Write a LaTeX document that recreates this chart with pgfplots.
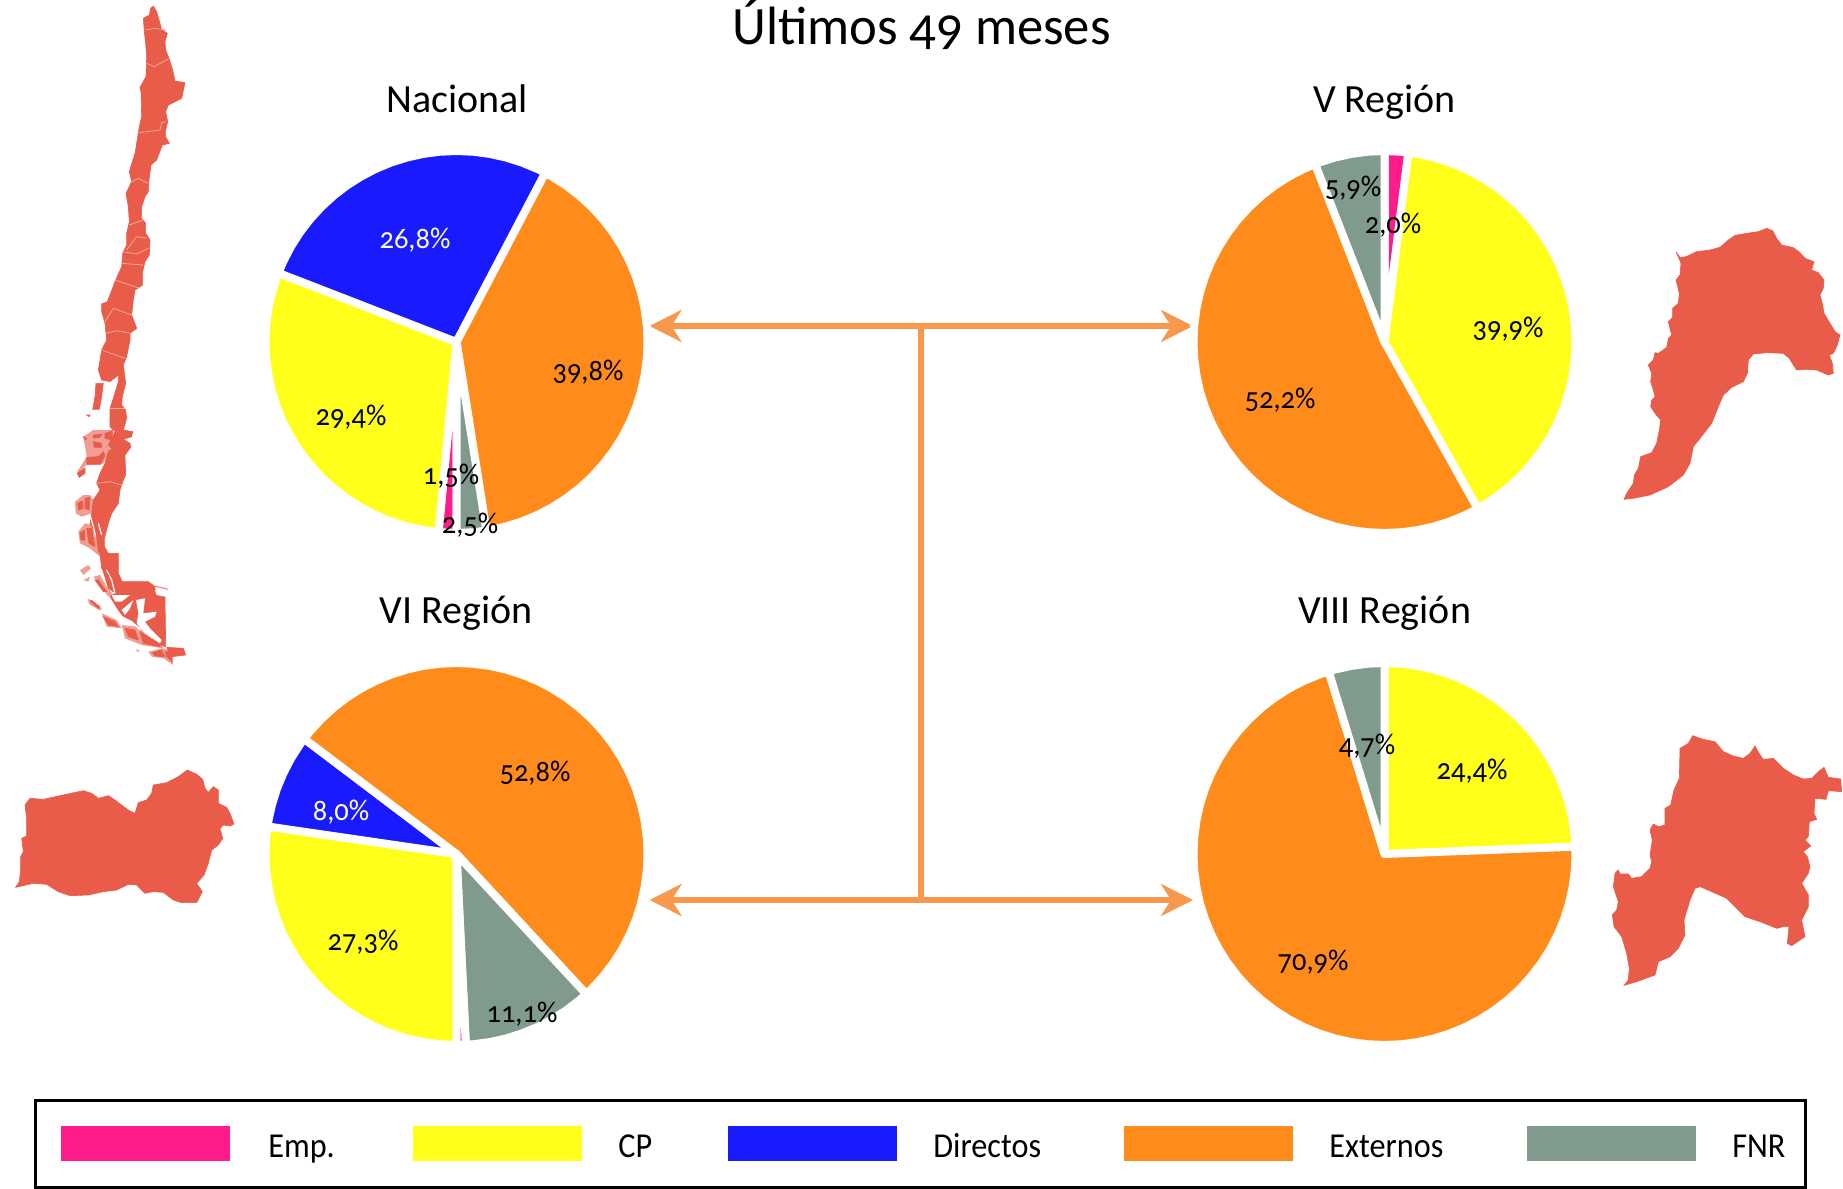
\documentclass[border=0pt]{standalone}
\usepackage{fontspec}
\setmainfont[Numbers=OldStyle]{Carlito}
\usepackage{pgfplots}
\pgfplotsset{compat=1.18}
\usepgfplotslibrary{polar}
\usetikzlibrary{arrows.meta}
\definecolor{cEmp}{HTML}{FF1C8A}
\definecolor{cCP}{HTML}{FFFF19}
\definecolor{cDir}{HTML}{1A1AFF}
\definecolor{cExt}{HTML}{FF8C1A}
\definecolor{cFNR}{HTML}{809A8E}
\definecolor{cMap}{HTML}{EA5C4A}
\definecolor{cArr}{HTML}{F8984C}
\pgfplotsset{
  z/.style 2 args={x filter/.expression={#1+x/3},y filter/.expression={#2+y/3}},
  land/.style={no markers,fill=cMap,draw=cMap,line width=0.3pt},
  pale/.style={no markers,fill=cMap!60!white,draw=none},
  gap/.style={no markers,fill=white,draw=none},
  cut/.style={no markers,draw=white,line width=0.6pt},
  seam/.style={no markers,draw=white!50!cMap,line width=0.35pt},
  swatch/.style={no markers,fill=#1,draw=none},
  wedge/.style={no markers,fill=#1,draw=white,line width=4pt,line join=round},
  pie/.style={hide axis,scale only axis,width=191pt,height=191pt,xmin=0,xmax=360,ymin=0,ymax=1,clip=false,anchor=center},
}
\newcommand\lab[3][black]{\node[text=#1,font=\fontsize{15}{18}\selectfont] at ($(#2)+(0,2)$) {\scalebox{0.95}[1]{#3}};}
\newcommand\leg[2]{\node[anchor=base west,inner sep=0pt,font=\fontsize{17.5}{20}\selectfont] at (#1,1158) {\scalebox{0.92}[1]{#2}};}
\newcommand\ttl[3]{\node[anchor=base,font=\fontsize{20}{24}\selectfont] at (#1,#2) {#3};}
\usetikzlibrary{calc}
\begin{document}
\begin{tikzpicture}
\useasboundingbox (0,0) rectangle (921.5pt,594.5pt);
\begin{axis}[at={(0,0)},anchor=south west,scale only axis,width=921.5pt,height=594.5pt,
  xmin=0,xmax=1843,ymin=0,ymax=1189,y dir=reverse,hide axis,clip=false]
% Chile, north
\addplot[land,z={0}{0}] coordinates {(460,18)(470,35)(480,70)(485,88)(502,100)(495,125)(497,150)(508,178)(518,210)(525,243)(555,248)(545,295)(505,315)(497,335)(503,365)(497,390)(497,410)(508,430)(487,435)(470,480)(453,495)(447,540)(445,575)(435,590)(425,620)(425,655)(437,670)(437,700)(450,720)(448,765)(435,785)(428,815)(428,855)(405,870)(400,900)(395,945)(410,985)(390,1000)(390,1020)(320,1020)(315,970)(305,935)(305,912)(322,905)(345,845)(365,800)(368,760)(380,735)(380,700)(388,665)(385,620)(378,580)(395,545)(388,515)(405,460)(410,430)(418,380)(425,350)(423,275)(420,262)(438,230)(440,170)(437,130)(433,95)(430,55)(448,45)(452,25)} --cycle;
% pale, mottled archipelagos
\addplot[pale,z={60}{340}] coordinates {(70,290)(100,270)(160,270)(150,330)(130,370)(78,375)(55,410)(52,395)(80,350)} --cycle;
\addplot[pale,z={65}{480}] coordinates {(30,65)(55,45)(75,45)(85,60)(80,100)(50,110)(32,100)} --cycle;
\addplot[pale,z={65}{480}] coordinates {(40,155)(60,130)(80,135)(105,150)(115,185)(125,225)(105,230)(75,205)(45,190)} --cycle;
\addplot[pale,z={65}{480}] coordinates {(45,270)(70,255)(78,265)(55,285)} --cycle;
\addplot[pale,z={65}{480}] coordinates {(55,300)(75,290)(70,305)} --cycle;
\addplot[pale,z={65}{480}] coordinates {(85,290)(105,285)(125,320)(145,345)(130,350)} --cycle;
\addplot[pale,z={65}{480}] coordinates {(110,260)(150,290)(150,340)(130,320)} --cycle;
\addplot[pale,z={65}{480}] coordinates {(68,355)(110,385)(105,392)(72,372)} --cycle;
\addplot[pale,z={65}{480}] coordinates {(110,400)(155,420)(170,445)(125,440)} --cycle;
\addplot[pale,z={65}{480}] coordinates {(170,435)(215,440)(290,490)(295,505)(230,495)(180,475)} --cycle;
\addplot[pale,z={65}{480}] coordinates {(250,515)(290,505)(320,510)(325,555)(295,535)(260,530)} --cycle;
\addplot[pale,z={65}{480}] coordinates {(212,508)(225,512)(218,516)} --cycle;
% Chile, south
\addplot[land,z={60}{340}] coordinates {(140,0)(210,0)(200,50)(190,75)(197,130)(187,170)(185,195)(197,210)(200,235)(190,270)(218,275)(215,290)(190,298)(210,310)(212,322)(195,345)(197,405)(190,420)(180,450)(175,490)(155,520)(145,550)(133,595)(133,620)(145,640)(175,640)(175,700)(187,725)(265,725)(285,740)(285,750)(315,770)(317,920)(300,915)(265,880)(225,850)(190,830)(175,810)(150,770)(165,760)(160,740)(140,710)(125,685)(120,640)(115,600)(90,550)(95,520)(100,480)(120,450)(110,430)(120,400)(135,370)(145,335)(155,325)(145,315)(165,275)(150,260)(150,205)(160,175)(175,125)(175,105)(150,125)(125,120)(115,90)(125,30)} --cycle;
\addplot[gap,z={65}{480}] coordinates {(140,345)(195,345)(170,365)(150,365)} --cycle;
\addplot[gap,z={65}{480}] coordinates {(170,390)(205,360)(195,385)(180,405)} --cycle;
\addplot[gap,z={65}{480}] coordinates {(213,360)(240,355)(235,400)(275,395)(270,410)(240,425)(255,445)(290,480)(285,490)(240,460)(215,430)(220,400)} --cycle;
\addplot[gap,z={65}{480}] coordinates {(270,330)(300,330)(300,350)(275,345)} --cycle;
\addplot[no markers,draw=white!30!cMap,line width=0.6pt,z={65}{480}] coordinates {(270,318)(310,328)};
\addplot[cut,z={65}{480}] coordinates {(75,105)(85,140)(92,170)};
\addplot[cut,z={65}{480}] coordinates {(100,130)(110,165)};
\addplot[cut,z={65}{480}] coordinates {(125,270)(140,300)(150,340)};
\addplot[cut,z={65}{480}] coordinates {(150,400)(200,425)(225,450)};
% islands
\addplot[land,z={60}{340}] coordinates {(108,130)(130,130)(125,170)(118,208)(98,208)(105,170)} --cycle;
\addplot[land,z={60}{340}] coordinates {(135,280)(158,272)(155,300)(135,295)} --cycle;
\addplot[land,z={60}{340}] coordinates {(100,305)(125,310)(125,322)(103,322)} --cycle;
\addplot[land,z={60}{340}] coordinates {(80,352)(115,350)(130,335)(135,345)(122,373)(80,373)} --cycle;
\addplot[land,z={60}{340}] coordinates {(100,285)(125,282)(120,292)(100,294)} --cycle;
\addplot[land,z={60}{340}] coordinates {(70,290)(80,295)(75,300)} --cycle;
\addplot[land,z={60}{340}] coordinates {(80,225)(90,225)(88,230)} --cycle;
\addplot[land,z={60}{340}] coordinates {(75,385)(52,400)(58,412)(75,400)} --cycle;
\addplot[land,z={65}{480}] coordinates {(38,70)(52,62)(55,85)(40,90)} --cycle;
\addplot[land,z={65}{480}] coordinates {(60,55)(75,52)(72,90)(60,85)} --cycle;
\addplot[land,z={65}{480}] coordinates {(45,160)(58,150)(60,180)(48,180)} --cycle;
\addplot[land,z={65}{480}] coordinates {(65,145)(80,145)(90,200)(72,190)} --cycle;
\addplot[land,z={65}{480}] coordinates {(95,170)(105,175)(112,225)(100,215)} --cycle;
\addplot[land,z={65}{480}] coordinates {(115,275)(130,285)(145,335)(130,325)} --cycle;
\addplot[land,z={65}{480}] coordinates {(90,300)(100,300)(125,335)(115,335)} --cycle;
\addplot[land,z={65}{480}] coordinates {(78,360)(105,380)(100,385)(76,365)} --cycle;
\addplot[land,z={65}{480}] coordinates {(115,410)(150,425)(160,440)(130,435)} --cycle;
\addplot[land,z={65}{480}] coordinates {(180,445)(210,450)(220,480)(190,470)} --cycle;
\addplot[land,z={65}{480}] coordinates {(225,455)(280,490)(285,500)(235,490)} --cycle;
\addplot[land,z={65}{480}] coordinates {(262,518)(290,510)(300,530)(270,528)} --cycle;
\addplot[land,z={65}{480}] coordinates {(300,515)(318,515)(322,545)(305,530)} --cycle;
\addplot[land,z={65}{480}] coordinates {(305,502)(355,505)(362,525)(320,530)} --cycle;
% regional seams
\addplot[seam,z={0}{0}] coordinates {(435,90)(465,85)(500,90)};
\addplot[seam,z={0}{0}] coordinates {(440,190)(462,200)(508,175)};
\addplot[seam,z={0}{0}] coordinates {(418,398)(480,390)(485,368)(497,365)};
\addplot[seam,z={0}{0}] coordinates {(395,545)(415,535)(445,550)};
\addplot[seam,z={0}{0}] coordinates {(388,675)(430,660)};
\addplot[seam,z={0}{0}] coordinates {(380,750)(410,710)(440,715)};
\addplot[seam,z={0}{0}] coordinates {(368,755)(410,762)(445,745)};
\addplot[seam,z={0}{0}] coordinates {(365,790)(430,795)};
\addplot[seam,z={0}{0}] coordinates {(345,840)(375,850)(420,865)};
\addplot[seam,z={0}{0}] coordinates {(315,965)(340,925)(395,945)};
\addplot[seam,z={0}{0}] coordinates {(318,1000)(350,992)(390,1000)};
\addplot[seam,z={60}{340}] coordinates {(125,30)(195,55)};
\addplot[seam,z={60}{340}] coordinates {(150,205)(195,205)};
\addplot[seam,z={60}{340}] coordinates {(110,430)(150,425)(185,435)};
% V Region map
\addplot[land,z={1600}{210}] coordinates {(228,125)(240,143)(258,140)(290,125)(330,120)(360,112)(385,90)(405,76)(440,70)(475,65)(500,55)(518,62)(530,85)(545,105)(580,113)(600,128)(615,145)(642,155)(635,180)(655,188)(672,210)(670,235)(660,255)(668,285)(672,310)(690,340)(705,365)(720,375)(712,405)(700,430)(688,435)(697,460)(700,490)(685,495)(650,480)(620,478)(590,480)(580,465)(568,445)(550,430)(500,428)(460,432)(445,450)(442,490)(430,515)(395,532)(370,555)(355,590)(335,640)(300,685)(280,710)(270,760)(250,795)(205,830)(150,855)(100,865)(72,868)(80,850)(100,820)(103,795)(115,775)(122,740)(155,728)(170,700)(178,660)(182,630)(165,610)(152,590)(155,570)(165,560)(160,540)(152,515)(155,490)(145,465)(160,450)(165,428)(175,430)(200,412)(205,385)(215,375)(205,335)(218,322)(218,295)(235,280)(238,250)(228,210)(240,195)(243,160)} --cycle;
% VI Region map
\addplot[land,z={0}{750}] coordinates {(47,412)(58,395)(62,360)(62,320)(70,305)(65,265)(80,258)(80,205)(75,165)(90,145)(130,148)(180,137)(250,122)(275,130)(295,145)(325,137)(345,150)(385,180)(405,190)(415,158)(440,150)(455,130)(460,105)(500,98)(535,80)(562,60)(590,73)(608,88)(615,115)(625,127)(640,110)(655,120)(655,160)(680,172)(692,195)(702,222)(690,228)(670,225)(660,235)(668,265)(655,285)(635,300)(625,340)(612,375)(590,400)(607,425)(590,458)(545,458)(520,450)(490,427)(460,425)(435,430)(410,405)(385,403)(350,420)(310,425)(265,435)(210,437)(175,425)(140,403)(100,400)} --cycle;
% VIII Region map
\addplot[land,z={1600}{720}] coordinates {(72,796)(85,780)(88,745)(80,700)(65,650)(42,620)(37,585)(50,570)(55,545)(40,500)(45,460)(55,450)(60,462)(85,462)(95,475)(125,470)(150,445)(155,425)(150,405)(157,360)(150,330)(160,312)(175,320)(195,315)(195,265)(212,255)(222,210)(238,175)(240,85)(265,70)(278,47)(310,58)(345,65)(370,95)(400,108)(430,115)(450,100)(465,78)(480,105)(490,118)(520,115)(550,145)(580,165)(610,177)(635,175)(655,155)(672,142)(685,172)(722,177)(725,215)(685,212)(678,238)(645,235)(642,280)(650,298)(628,305)(625,350)(615,360)(632,378)(610,395)(622,410)(630,440)(625,460)(605,490)(625,525)(625,560)(605,600)(615,650)(575,677)(562,670)(567,620)(550,620)(530,625)(480,605)(435,590)(410,565)(380,535)(335,515)(300,500)(285,505)(270,540)(252,600)(255,645)(235,685)(210,710)(175,725)(165,765)(110,785)} --cycle;
% connector
\addplot[no markers,draw=cArr,line width=3pt] coordinates {(921,326)(921,900)};
\addplot[no markers,draw=cArr,line width=3.3pt,{Stealth[length=16pt,width=16pt,inset=5pt]}-{Stealth[length=16pt,width=16pt,inset=5pt]}] coordinates {(649.5,326)(1193,326)};
\addplot[no markers,draw=cArr,line width=3.3pt,{Stealth[length=16pt,width=16pt,inset=5pt]}-{Stealth[length=16pt,width=16pt,inset=5pt]}] coordinates {(649.5,900)(1193,900)};
% legend
\addplot[no markers,draw=black,line width=1.5pt] coordinates {(35,1100)(1805,1100)(1805,1187.5)(35,1187.5)} --cycle;
\addplot[swatch=cEmp] coordinates {(61,1126)(230,1126)(230,1161)(61,1161)} --cycle;
\addplot[swatch=cCP] coordinates {(412.5,1126)(582,1126)(582,1161)(412.5,1161)} --cycle;
\addplot[swatch=cDir] coordinates {(727.5,1126)(897,1126)(897,1161)(727.5,1161)} --cycle;
\addplot[swatch=cExt] coordinates {(1124,1126)(1293,1126)(1293,1161)(1124,1161)} --cycle;
\addplot[swatch=cFNR] coordinates {(1527,1126)(1696,1126)(1696,1161)(1527,1161)} --cycle;
\end{axis}

% Nacional
\begin{polaraxis}[pie,at={(228.25pt,423.5pt)}]
\addplot[wedge=cEmp] coordinates {(0,0)(270,1)(264.6,1)} --cycle;
\addplot[wedge=cCP] coordinates {(0,0)(264.6,1)(260,1)(255,1)(250,1)(245,1)(240,1)(235,1)(230,1)(225,1)(220,1)(215,1)(210,1)(205,1)(200,1)(195,1)(190,1)(185,1)(180,1)(175,1)(170,1)(165,1)(160,1)(158.8,1)} --cycle;
\addplot[wedge=cDir] coordinates {(0,0)(158.8,1)(155,1)(150,1)(145,1)(140,1)(135,1)(130,1)(125,1)(120,1)(115,1)(110,1)(105,1)(100,1)(95,1)(90,1)(85,1)(80,1)(75,1)(70,1)(65,1)(62.3,1)} --cycle;
\addplot[wedge=cExt] coordinates {(0,0)(62.3,1)(60,1)(55,1)(50,1)(45,1)(40,1)(35,1)(30,1)(25,1)(20,1)(15,1)(10,1)(5,1)(0,1)(-5,1)(-10,1)(-15,1)(-20,1)(-25,1)(-30,1)(-35,1)(-40,1)(-45,1)(-50,1)(-55,1)(-60,1)(-65,1)(-70,1)(-75,1)(-80,1)(-81,1)} --cycle;
\addplot[wedge=cFNR] coordinates {(0,0)(-81,1)(-85,1)(-90,1)} --cycle;
\end{polaraxis}
% V Region
\begin{polaraxis}[pie,at={(692.25pt,423.5pt)}]
\addplot[wedge=cEmp] coordinates {(0,0)(90,1)(85,1)(82.8,1)} --cycle;
\addplot[wedge=cCP] coordinates {(0,0)(82.8,1)(80,1)(75,1)(70,1)(65,1)(60,1)(55,1)(50,1)(45,1)(40,1)(35,1)(30,1)(25,1)(20,1)(15,1)(10,1)(5,1)(0,1)(-5,1)(-10,1)(-15,1)(-20,1)(-25,1)(-30,1)(-35,1)(-40,1)(-45,1)(-50,1)(-55,1)(-60,1)(-60.8,1)} --cycle;
\addplot[wedge=cExt] coordinates {(0,0)(-60.8,1)(-65,1)(-70,1)(-75,1)(-80,1)(-85,1)(-90,1)(-95,1)(-100,1)(-105,1)(-110,1)(-115,1)(-120,1)(-125,1)(-130,1)(-135,1)(-140,1)(-145,1)(-150,1)(-155,1)(-160,1)(-165,1)(-170,1)(-175,1)(-180,1)(-185,1)(-190,1)(-195,1)(-200,1)(-205,1)(-210,1)(-215,1)(-220,1)(-225,1)(-230,1)(-235,1)(-240,1)(-245,1)(-248.7,1)} --cycle;
\addplot[wedge=cFNR] coordinates {(0,0)(-248.7,1)(-250,1)(-255,1)(-260,1)(-265,1)(-270,1)} --cycle;
\end{polaraxis}
% VI Region
\begin{polaraxis}[pie,at={(228.25pt,167.5pt)}]
\addplot[wedge=cCP] coordinates {(0,0)(270,1)(265,1)(260,1)(255,1)(250,1)(245,1)(240,1)(235,1)(230,1)(225,1)(220,1)(215,1)(210,1)(205,1)(200,1)(195,1)(190,1)(185,1)(180,1)(175,1)(171.7,1)} --cycle;
\addplot[wedge=cDir] coordinates {(0,0)(171.7,1)(170,1)(165,1)(160,1)(155,1)(150,1)(145,1)(142.9,1)} --cycle;
\addplot[wedge=cExt] coordinates {(0,0)(142.9,1)(140,1)(135,1)(130,1)(125,1)(120,1)(115,1)(110,1)(105,1)(100,1)(95,1)(90,1)(85,1)(80,1)(75,1)(70,1)(65,1)(60,1)(55,1)(50,1)(45,1)(40,1)(35,1)(30,1)(25,1)(20,1)(15,1)(10,1)(5,1)(0,1)(-5,1)(-10,1)(-15,1)(-20,1)(-25,1)(-30,1)(-35,1)(-40,1)(-45,1)(-47.2,1)} --cycle;
\addplot[wedge=cFNR] coordinates {(0,0)(-47.2,1)(-50,1)(-55,1)(-60,1)(-65,1)(-70,1)(-75,1)(-80,1)(-85,1)(-87.2,1)} --cycle;
\addplot[wedge=cEmp] coordinates {(0,0)(-87.2,1)(-90,1)} --cycle;
\end{polaraxis}
% VIII Region
\begin{polaraxis}[pie,at={(692.25pt,167.5pt)}]
\addplot[wedge=cCP] coordinates {(0,0)(90,1)(85,1)(80,1)(75,1)(70,1)(65,1)(60,1)(55,1)(50,1)(45,1)(40,1)(35,1)(30,1)(25,1)(20,1)(15,1)(10,1)(5,1)(2.2,1)} --cycle;
\addplot[wedge=cExt] coordinates {(0,0)(2.2,1)(0,1)(-5,1)(-10,1)(-15,1)(-20,1)(-25,1)(-30,1)(-35,1)(-40,1)(-45,1)(-50,1)(-55,1)(-60,1)(-65,1)(-70,1)(-75,1)(-80,1)(-85,1)(-90,1)(-95,1)(-100,1)(-105,1)(-110,1)(-115,1)(-120,1)(-125,1)(-130,1)(-135,1)(-140,1)(-145,1)(-150,1)(-155,1)(-160,1)(-165,1)(-170,1)(-175,1)(-180,1)(-185,1)(-190,1)(-195,1)(-200,1)(-205,1)(-210,1)(-215,1)(-220,1)(-225,1)(-230,1)(-235,1)(-240,1)(-245,1)(-250,1)(-253,1)} --cycle;
\addplot[wedge=cFNR] coordinates {(0,0)(-253,1)(-255,1)(-260,1)(-265,1)(-270,1)} --cycle;
\end{polaraxis}

% all text, positions in reference pixels
\begin{scope}[shift={(0,594.5pt)},x=0.5pt,y=-0.5pt]
\node[font=\fontsize{27}{30}\selectfont] at (921.5,25) {\scalebox{0.975}[1]{Últimos 49 meses}};
\ttl{457}{113}{Nacional}
\ttl{1384.5}{113}{V Región}
\ttl{456}{624}{VI Región}
\ttl{1384.5}{624}{VIII Región}
\lab[white]{415,238}{26,8\%}
\lab{588,370}{39,8\%}
\lab{351,415}{29,4\%}
\lab{451,474}{1,5\%}
\lab{470,523}{2,5\%}
\lab{1353,186}{5,9\%}
\lab{1393,223}{2,0\%}
\lab{1508,327}{39,9\%}
\lab{1280,398}{52,2\%}
\lab{535,771}{52,8\%}
\lab[white]{341,810}{8,0\%}
\lab{363,940}{27,3\%}
\lab{522,1012}{11,1\%}
\lab{1472,769}{24,4\%}
\lab{1367,744}{4,7\%}
\lab{1313,960}{70,9\%}
\leg{268}{Emp.}
\leg{618}{CP}
\leg{933}{Directos}
\leg{1329}{Externos}
\leg{1732}{FNR}
\end{scope}
\end{tikzpicture}
\end{document}
